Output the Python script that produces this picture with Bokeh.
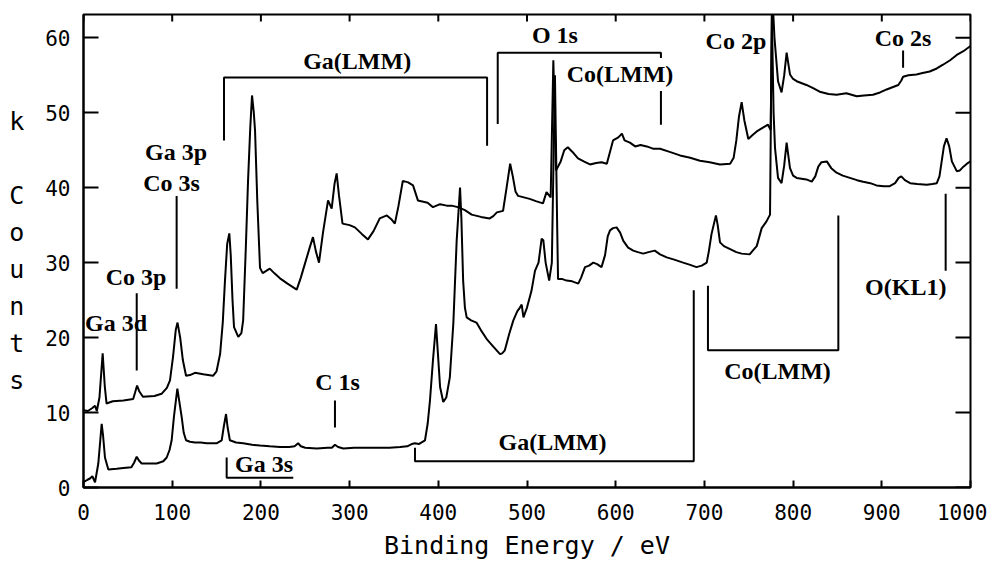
import math
from bokeh.plotting import figure
from bokeh.models import FixedTicker, Label, ColumnDataSource
from bokeh.core.properties import value
from bokeh.embed import file_html
from bokeh.resources import INLINE

# ---------------- data ----------------
upper_energy = [0, 5, 10, 13, 15, 18, 21.6, 24, 26, 33, 45, 56, 58, 60.4, 63, 67, 80, 88, 94, 97.5,
                101, 104, 106, 109, 112, 115.6, 120, 125.7, 135, 146, 150, 154, 157, 159.5, 162, 164.4,
                166, 168, 169.7, 174.5, 178, 180, 183, 185.5, 188, 190, 192, 193.4, 196, 199, 202, 206,
                210, 215, 221.5, 230, 240.4, 245, 250, 255, 258.7, 262, 265.5, 270, 275.7, 279.8, 283,
                285.4, 288, 292, 300, 306, 314, 320.7, 327, 334, 342, 347, 351, 355, 360, 366, 371.5,
                377, 388, 394, 402, 409.5, 415, 422, 430, 437.6, 448, 458, 462, 466, 473, 477, 481, 484,
                487, 490, 503, 510, 518, 522, 526.7, 529.7, 532.7, 538, 542, 546, 551, 557.5, 564, 571,
                578, 584, 590, 597, 603, 607, 610, 616, 622, 628, 635, 642, 650, 660, 672.5, 684, 695,
                706, 717.5, 729, 733, 736, 739, 742, 745, 749.5, 754, 759, 766, 771.7, 774.7, 776.5,
                779, 783, 787, 790, 792.7, 796.5, 800, 804, 815, 822, 830, 840, 849, 860, 871.7, 880,
                890, 898, 905.5, 912, 918.6, 922, 924, 930, 939, 946, 954, 962, 969, 977, 984.5, 992,
                1000]
upper_counts = [10.3, 10.2, 10.6, 10.9, 10.2, 12, 17.9, 13.5, 11.2, 11.5, 11.6, 11.8, 12.6, 13.6, 12.8,
                12.1, 12.2, 12.5, 13.3, 14.3, 17.5, 21, 22.0, 20, 17, 14.9, 15.0, 15.3, 15.1, 14.9,
                15.5, 17.8, 22, 27.6, 32.5, 33.9, 31, 25, 21.4, 20.1, 20.6, 22.3, 32, 40.9, 48, 52.3,
                50, 47.6, 38, 29.3, 28.6, 28.9, 29.2, 28.6, 27.9, 27.2, 26.4, 28, 30, 32.0, 33.4, 31.5,
                30.0, 34, 38.3, 37.2, 40.5, 41.9, 39, 35.2, 35.0, 34.7, 33.8, 33.1, 34.2, 35.9, 36.3,
                35.8, 35.2, 37.5, 40.9, 40.7, 40.3, 38.3, 38.0, 37.4, 37.8, 37.6, 37.6, 37.4, 37.0,
                36.4, 36.1, 35.9, 36.2, 36.7, 36.9, 40, 43.2, 41.5, 39.5, 38.9, 38.5, 38.2, 37.9, 39.4,
                38.7, 57.0, 42.3, 43.5, 45, 45.4, 44.8, 43.9, 43.5, 43.1, 43.3, 43.4, 43.2, 46.3, 46.7,
                47.2, 46.3, 46.0, 45.5, 45.7, 45.5, 45.2, 45.2, 44.8, 44.3, 44.0, 43.6, 43.4, 43.1,
                43.2, 44, 46.3, 49.5, 51.4, 49, 46.5, 47.0, 47.5, 48.0, 48.4, 47.7, 66, 60, 54.2, 52.7,
                55, 58.0, 55.1, 54.5, 54.2, 53.7, 53.3, 52.8, 52.5, 52.4, 52.6, 52.2, 52.3, 52.4, 52.7,
                53.1, 53.4, 53.7, 54.3, 54.8, 55.0, 55.1, 55.3, 55.5, 55.9, 56.4, 57.0, 57.7, 58.2,
                58.9]

lower_energy = [0, 4, 7.3, 10, 13, 16.7, 20.5, 22, 24.2, 28, 37.4, 45, 54, 57, 60, 62.5, 65.6, 75, 82.5,
                90, 93.8, 97, 99.4, 102, 105.8, 108, 110.7, 113, 115.6, 120, 125.7, 132, 139, 150, 155.8,
                158, 160.7, 162.5, 165, 172, 180, 190, 199, 210, 221.5, 232, 238, 242, 245, 250, 263,
                275, 280, 283.5, 287, 293, 305, 319, 335, 345, 357, 365, 370, 373.7, 378, 385, 388,
                390.6, 394, 397.4, 399.5, 402, 405.6, 409, 413, 417, 420.7, 424.5, 426, 428, 430, 432,
                437, 443, 448, 454.6, 462, 469.6, 472, 475, 480, 484.6, 489, 492, 494, 496, 500, 505,
                509, 513, 516.5, 518.4, 521, 525, 528, 531.5, 534, 535, 540, 544.7, 551, 557.8, 561,
                565.4, 570, 574.7, 579, 584, 588, 591, 593.6, 597, 601, 605, 608.6, 614, 619.8, 625,
                631, 637, 644, 650, 657.5, 666, 676, 684, 691, 697, 702.6, 705, 708, 713, 715, 717.6,
                722, 729, 736, 742, 751, 756, 759, 764.6, 770, 774, 776, 778, 779.6, 783, 787, 790,
                792.7, 796.5, 800, 804, 815, 821, 825, 828.4, 832, 838, 843, 849, 856, 864, 872, 879,
                887, 894, 902, 909, 915, 919, 922, 926, 932, 940, 950.6, 957, 962, 965, 967.5, 970,
                973, 976, 979, 984.5, 988, 992, 996, 1000]
lower_counts = [0.7, 1.0, 1.2, 1.5, 0.7, 3.2, 8.5, 7, 4.0, 2.4, 2.5, 2.6, 2.7, 3.3, 4.1, 3.6, 3.2, 3.2,
                3.2, 3.5, 4.0, 5.0, 6.3, 9.5, 13.2, 11.5, 9.4, 7.3, 6.3, 6.1, 6.0, 6.0, 5.9, 5.9, 6.3,
                8, 9.8, 8, 6.3, 6.0, 5.9, 5.7, 5.6, 5.5, 5.4, 5.4, 5.5, 5.9, 5.5, 5.3, 5.2, 5.3, 5.3,
                5.7, 5.4, 5.2, 5.3, 5.3, 5.3, 5.3, 5.4, 5.5, 5.8, 5.9, 5.8, 6.3, 8.5, 11.6, 17, 21.8,
                18, 13.4, 11.4, 12, 14.7, 22, 32.9, 40.0, 36, 27.6, 24, 22.7, 22.3, 22.0, 21.0, 19.8,
                18.8, 17.8, 17.9, 18.3, 20.5, 22.3, 23.5, 24.0, 24.4, 22.7, 24, 26.2, 28.9, 30, 33.2,
                33.0, 30, 27.6, 30, 55, 35, 27.8, 27.8, 27.6, 27.5, 27.2, 28, 29.4, 29.6, 30.0, 29.8,
                29.4, 31, 33.5, 34.3, 34.6, 34.7, 34, 32.9, 32.0, 31.6, 31.4, 31.2, 31.4, 31.6, 31.1,
                30.7, 30.4, 30.0, 29.7, 29.4, 29.6, 30.0, 31.5, 33.8, 36.3, 35, 32.7, 32.2, 31.8, 31.4,
                31.2, 31.1, 31.8, 32.2, 34.6, 35.5, 36.4, 63.5, 50, 45.3, 41.3, 40.6, 43, 46.0, 42.6,
                41.6, 41.3, 41.1, 40.8, 41.5, 42.8, 43.4, 43.5, 42.6, 42.0, 41.6, 41.3, 41.0, 40.8,
                40.6, 40.3, 40.2, 40.2, 40.6, 41.3, 41.5, 41.0, 40.6, 40.5, 40.4, 40.5, 40.6, 41.5,
                43.5, 45.5, 46.6, 45.5, 43.5, 42.2, 42.3, 42.8, 43.2, 43.5]

# peak assignments: label text and its (energy, counts) anchor
peak_names = ["Ga 3d", "Co 3p", "Ga 3p", "Co 3s", "Ga(LMM)", "O 1s", "Co(LMM)", "Co 2p", "Co 2s",
              "O(KL1)", "Co(LMM)", "Ga(LMM)", "C 1s", "Ga 3s"]
peak_x = [36.7, 59.2, 104.3, 99.2, 308.5, 531.5, 604.8, 735.5, 924, 927, 782.4, 528.7, 286.4, 203.5]
peak_y = [21.9, 28.1, 44.7, 40.6, 56.9, 60.3, 55.2, 59.6, 60.0, 26.7, 15.6, 6.1, 14.1, 3.2]

# marker ticks and brackets (energy / counts coordinates)
marker_xs = [[60, 60], [105, 105], [283.5, 283.5], [651, 651], [924, 924], [972, 972],
             [158.4, 158.4, 455, 455], [467, 467, 651, 651], [373.7, 373.7, 688, 688],
             [704, 704, 851, 851], [161.4, 161.4, 236.5]]
marker_ys = [[25.9, 15.6], [38.9, 26.5], [11.6, 8.0], [52.9, 48.4], [58.3, 56.0], [39.2, 28.9],
             [46.3, 54.7, 54.7, 45.6], [48.5, 58.0, 58.0, 57.3], [5.3, 3.5, 3.5, 26.3],
             [26.9, 18.3, 18.3, 36.3], [4.0, 1.3, 1.3]]

x_min, x_max = 0, 1000
y_min, y_max = 0, 63.1
x_ticks = [0, 100, 200, 300, 400, 500, 600, 700, 800, 900, 1000]
y_ticks = [0, 10, 20, 30, 40, 50, 60]
y_title = "k\n\nC\no\nu\nn\nt\ns"

# ---------------- figure ----------------
MONO = "DejaVu Sans Mono"
SERIF = "Liberation Serif"

p = figure(width=987, height=565, x_range=(x_min, x_max), y_range=(y_min, y_max),
           output_backend="svg", toolbar_location=None,
           min_border_left=83, min_border_right=17, min_border_top=14, min_border_bottom=78)
p.grid.visible = False
p.background_fill_color = "white"
p.border_fill_color = "white"
p.outline_line_color = "black"
p.outline_line_width = 2


def style_axis(ax, tick_in):
    ax.axis_line_color = "black"
    ax.axis_line_width = 2
    ax.major_tick_in = tick_in
    ax.major_tick_out = 0
    ax.major_tick_line_width = 2
    ax.major_tick_line_color = "black"
    ax.minor_tick_line_color = None
    ax.major_label_text_font = MONO
    ax.major_label_text_font_size = "21px"
    ax.major_label_text_color = "black"


xa = p.xaxis[0]
xa.ticker = FixedTicker(ticks=x_ticks)
style_axis(xa, 7)
xa.major_label_standoff = 16
xa.axis_label = "Binding Energy / eV"
xa.axis_label_text_font = MONO
xa.axis_label_text_font_size = "25px"
xa.axis_label_text_font_style = "normal"
xa.axis_label_text_color = "black"
xa.axis_label_standoff = 8

ya = p.yaxis[0]
ya.ticker = FixedTicker(ticks=y_ticks)
style_axis(ya, 15)
ya.major_label_standoff = 13

use_labels = False
try:
    ya.axis_label_orientation = "horizontal"
    ya.axis_label = y_title
    ya.axis_label_text_font = MONO
    ya.axis_label_text_font_size = "25px"
    ya.axis_label_text_font_style = "normal"
    ya.axis_label_text_color = "black"
    ya.axis_label_text_line_height = 1.28
    ya.axis_label_standoff = 18
except Exception:
    ya.axis_label = None
    use_labels = True

# inward ticks on the top and right frame edges
p.ray(x=x_ticks, y=[y_max] * len(x_ticks), length=7, length_units="screen",
      angle=-math.pi / 2, line_color="black", line_width=2)
p.ray(x=[x_max] * len(y_ticks), y=y_ticks, length=15, length_units="screen",
      angle=math.pi, line_color="black", line_width=2)

# spectra
p.line(upper_energy, upper_counts, line_color="black", line_width=2)
p.line(lower_energy, lower_counts, line_color="black", line_width=2)

# marker lines / brackets
p.multi_line(marker_xs, marker_ys, line_color="black", line_width=2)

# peak labels
src = ColumnDataSource(dict(x=peak_x, y=peak_y, t=peak_names))
p.text(x="x", y="y", text="t", source=src, text_font=value(SERIF), text_font_style="bold",
       text_font_size="24px", text_align="center", text_baseline="middle", text_color="black")

if use_labels:
    for ch, yy in zip(["k", "C", "o", "u", "n", "t", "s"], [49.2, 39.5, 34.4, 29.5, 24.4, 19.3, 14.3]):
        p.add_layout(Label(x=-72.7, y=yy, text=ch, text_font=MONO, text_font_size="25px",
                           text_align="center", text_baseline="middle", text_color="black"))

open("out.html", "w").write(file_html(p, INLINE))
